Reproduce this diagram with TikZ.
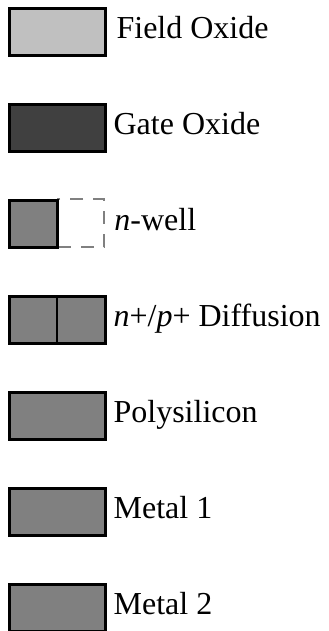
\documentclass[tikz,border=0pt]{standalone}
\usepackage{fontspec}
\setmainfont{Liberation Serif}
\usetikzlibrary{positioning}
\definecolor{fieldox}{HTML}{C0C0C0}
\definecolor{gateox}{HTML}{404040}
\definecolor{layer}{HTML}{808080}
\begin{document}
\begin{tikzpicture}[node distance=24.5pt and 4pt,box/.style={draw=black,fill=layer,line width=1.5pt,minimum width=47.7pt,minimum height=23.5pt,inner sep=0pt,outer sep=0pt},half/.style={box,minimum width=24pt},well/.style={draw=layer,dash pattern=on 6.5pt off 5pt,line width=1pt,minimum width=23pt,minimum height=24pt,inner sep=0pt,outer sep=0pt},lbl/.style={inner sep=0pt,text height=11pt,text depth=4pt,font=\fontsize{16pt}{19pt}\selectfont}]
\useasboundingbox (0,0) rectangle (164pt,-315.5pt);
\node[box,fill=fieldox](fo) at (28.75pt,-15.85pt){};
\node[box,fill=gateox,below=of fo](go){};
\node[well,below=24.5pt of go.south east,anchor=north east,xshift=-0.6pt,yshift=0.8pt](nwd){};
\node[half,below=of go.south west,anchor=north west](nw){};
\node[box,below=of nw.south west,anchor=north west](dif){};
\draw[line width=1pt]([xshift=-0.4pt]dif.north)--([xshift=-0.4pt]dif.south);
\node[box,below=of dif](poly){};
\node[box,below=of poly](mone){};
\node[box,below=of mone](mtwo){};
\node[lbl,right=of fo,xshift=1.5pt](fol){Field Oxide};
\node[lbl,right=of go](gol){Gate Oxide};
\node[lbl,right=5pt of nwd,yshift=-0.5pt](nwl){\textit{n}-well};
\node[lbl,right=of dif](difl){\textit{n}+/\textit{p}+ Diffusion};
\node[lbl,right=of poly](polyl){Polysilicon};
\node[lbl,right=of mone](monel){Metal 1};
\node[lbl,right=of mtwo](mtwol){Metal 2};
\end{tikzpicture}
\end{document}
